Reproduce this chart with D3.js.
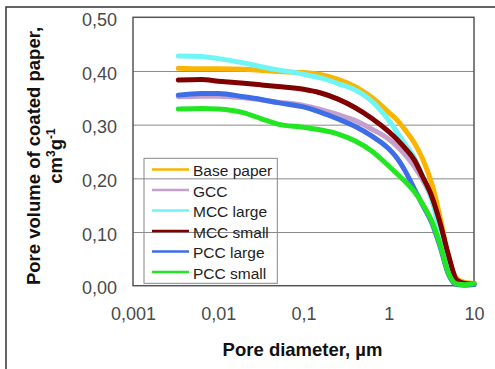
<!DOCTYPE html>
<html lang="en">
<head>
	<meta charset="UTF-8">
	<title>Pore volume of coated paper</title>
	<script src="https://cdnjs.cloudflare.com/ajax/libs/d3/7.8.5/d3.min.js"></script>
	<style>
		body { margin: 0; background: #fff; }
		svg { display: block; font-family: "Liberation Sans", Arial, sans-serif; }
	</style>
</head>
<body>
	<svg id="viz"></svg>
	<script>
		const diameters = [0.0034, 0.0063, 0.01, 0.02, 0.032, 0.05, 0.1, 0.16, 0.25, 0.4, 0.63,
			1, 1.26, 1.58, 2, 2.5, 3.2, 4, 5, 6.3, 7.9, 10];

		const basePaper = [0.405, 0.404, 0.404, 0.403, 0.401, 0.399, 0.397, 0.393, 0.385, 0.371, 0.351,
			0.323, 0.308, 0.289, 0.266, 0.236, 0.190, 0.128, 0.055, 0.013, 0.006, 0.004];
		const gcc = [0.352, 0.353, 0.353, 0.350, 0.346, 0.342, 0.336, 0.328, 0.319, 0.308, 0.292,
			0.273, 0.259, 0.243, 0.222, 0.197, 0.162, 0.112, 0.053, 0.008, 0.003, 0.003];
		const mccLarge = [0.428, 0.427, 0.423, 0.415, 0.408, 0.402, 0.394, 0.387, 0.377, 0.365, 0.344,
			0.308, 0.285, 0.262, 0.238, 0.203, 0.160, 0.100, 0.045, 0.008, 0.004, 0.003];
		const mccSmall = [0.383, 0.384, 0.381, 0.377, 0.374, 0.371, 0.366, 0.359, 0.348, 0.332, 0.312,
			0.287, 0.272, 0.255, 0.234, 0.203, 0.166, 0.117, 0.058, 0.010, 0.004, 0.003];
		const pccLarge = [0.355, 0.358, 0.358, 0.352, 0.347, 0.341, 0.333, 0.323, 0.311, 0.297, 0.279,
			0.255, 0.237, 0.212, 0.180, 0.150, 0.117, 0.073, 0.022, 0.002, 0.001, 0.002];
		const pccSmall = [0.329, 0.330, 0.329, 0.322, 0.311, 0.301, 0.295, 0.290, 0.283, 0.270, 0.251,
			0.223, 0.208, 0.193, 0.175, 0.152, 0.120, 0.077, 0.024, 0.003, 0.002, 0.004];

		const seriesNames = ['Base paper', 'GCC', 'MCC large', 'MCC small', 'PCC large', 'PCC small'];
		const seriesValues = [basePaper, gcc, mccLarge, mccSmall, pccLarge, pccSmall];
		const colors = ['#fbb400', '#c6a0cc', '#6ff5f5', '#800000', '#3d6ee8', '#22e622'];

		const yTicks = [0, 0.1, 0.2, 0.3, 0.4, 0.5];
		const xTicks = [0.001, 0.01, 0.1, 1, 10];
		const xTickLabels = ['0,001', '0,01', '0,1', '1', '10'];

		const width = 495, height = 369;
		const plotLeft = 133, plotRight = 474, plotTop = 17.3, plotBottom = 285.7;

		const svg = d3.select('#viz')
			.attr('width', width)
			.attr('height', height);

		// outer frame
		svg.append('rect')
			.attr('x', 6).attr('y', 7)
			.attr('width', 520).attr('height', 400)
			.attr('fill', 'none')
			.attr('stroke', '#333')
			.attr('stroke-width', 1.5);

		const x = d3.scaleLog().domain([0.001, 10]).range([plotLeft, plotRight]);
		const y = d3.scaleLinear().domain([0, 0.5]).range([plotBottom, plotTop]);

		const fmt = d3.formatLocale({ decimal: ',', thousands: '.', grouping: [3], currency: ['', ''] }).format('.2f');

		// gridlines
		svg.append('g')
			.attr('transform', `translate(${plotLeft},0)`)
			.call(d3.axisLeft(y).tickValues([0.1, 0.2, 0.3, 0.4]).tickSize(-(plotRight - plotLeft)).tickFormat(''))
			.call(g => g.select('.domain').remove())
			.call(g => g.selectAll('line').attr('stroke', '#8a8a8a').attr('stroke-width', 1));

		// y tick labels
		svg.append('g')
			.attr('transform', `translate(${plotLeft},0)`)
			.call(d3.axisLeft(y).tickValues(yTicks).tickSize(0).tickPadding(16).tickFormat(fmt))
			.call(g => g.select('.domain').remove())
			.call(g => g.selectAll('text')
				.attr('font-size', 18).attr('fill', '#4a4a4a').attr('dy', '0.45em')
				.attr('font-family', '"Liberation Sans", Arial, sans-serif'));

		// x tick labels
		svg.append('g')
			.attr('transform', `translate(0,${plotBottom})`)
			.call(d3.axisBottom(x).tickValues(xTicks).tickSize(0).tickPadding(21.5)
				.tickFormat((d, i) => xTickLabels[i]))
			.call(g => g.select('.domain').remove())
			.call(g => g.selectAll('text')
				.attr('font-size', 18).attr('fill', '#4a4a4a')
				.attr('font-family', '"Liberation Sans", Arial, sans-serif'));

		// plot area border
		svg.append('rect')
			.attr('x', plotLeft).attr('y', plotTop)
			.attr('width', plotRight - plotLeft).attr('height', plotBottom - plotTop)
			.attr('fill', 'none')
			.attr('stroke', '#555')
			.attr('stroke-width', 1.5);

		// curves
		const line = d3.line()
			.x((d, i) => x(diameters[i]))
			.y(d => y(d))
			.curve(d3.curveMonotoneX);

		svg.append('g')
			.selectAll('path')
			.data(seriesValues)
			.join('path')
			.attr('d', d => line(d))
			.attr('fill', 'none')
			.attr('stroke', (d, i) => colors[i])
			.attr('stroke-width', 5)
			.attr('stroke-linejoin', 'round')
			.attr('stroke-linecap', 'round');

		// legend
		const legend = svg.append('g');
		legend.append('rect')
			.attr('x', 144).attr('y', 158.3)
			.attr('width', 133.3).attr('height', 125)
			.attr('fill', 'none')
			.attr('stroke', '#888')
			.attr('stroke-width', 1);

		const rows = legend.selectAll('g.row')
			.data(seriesNames)
			.join('g')
			.attr('class', 'row')
			.attr('transform', (d, i) => `translate(0,${176 + i * 20.5})`);
		rows.append('line')
			.attr('x1', 152).attr('x2', 189)
			.attr('y1', -6.5).attr('y2', -6.5)
			.attr('stroke', (d, i) => colors[i])
			.attr('stroke-width', 2.5);
		rows.append('text')
			.attr('x', 193)
			.attr('font-size', 15.5)
			.attr('fill', '#222')
			.text(d => d);

		// axis titles
		svg.append('text')
			.attr('x', 302.5).attr('y', 356)
			.attr('text-anchor', 'middle')
			.attr('font-size', 18.5)
			.attr('font-weight', 'bold')
			.attr('fill', '#111')
			.text('Pore diameter, µm');

		const yTitle = svg.append('text')
			.attr('transform', 'translate(0,156) rotate(-90)')
			.attr('text-anchor', 'middle')
			.attr('font-size', 18.5)
			.attr('font-weight', 'bold')
			.attr('fill', '#111');
		yTitle.append('tspan')
			.attr('x', 0).attr('y', 40)
			.text('Pore volume of coated paper,');
		const l2 = yTitle.append('tspan')
			.attr('x', 0).attr('y', 61.5);
		l2.append('tspan').text('cm');
		l2.append('tspan').attr('font-size', 12).attr('dy', -7).text('3');
		l2.append('tspan').attr('dy', 7).text('g');
		l2.append('tspan').attr('font-size', 12).attr('dy', -7).text('-1');
	</script>
</body>
</html>
